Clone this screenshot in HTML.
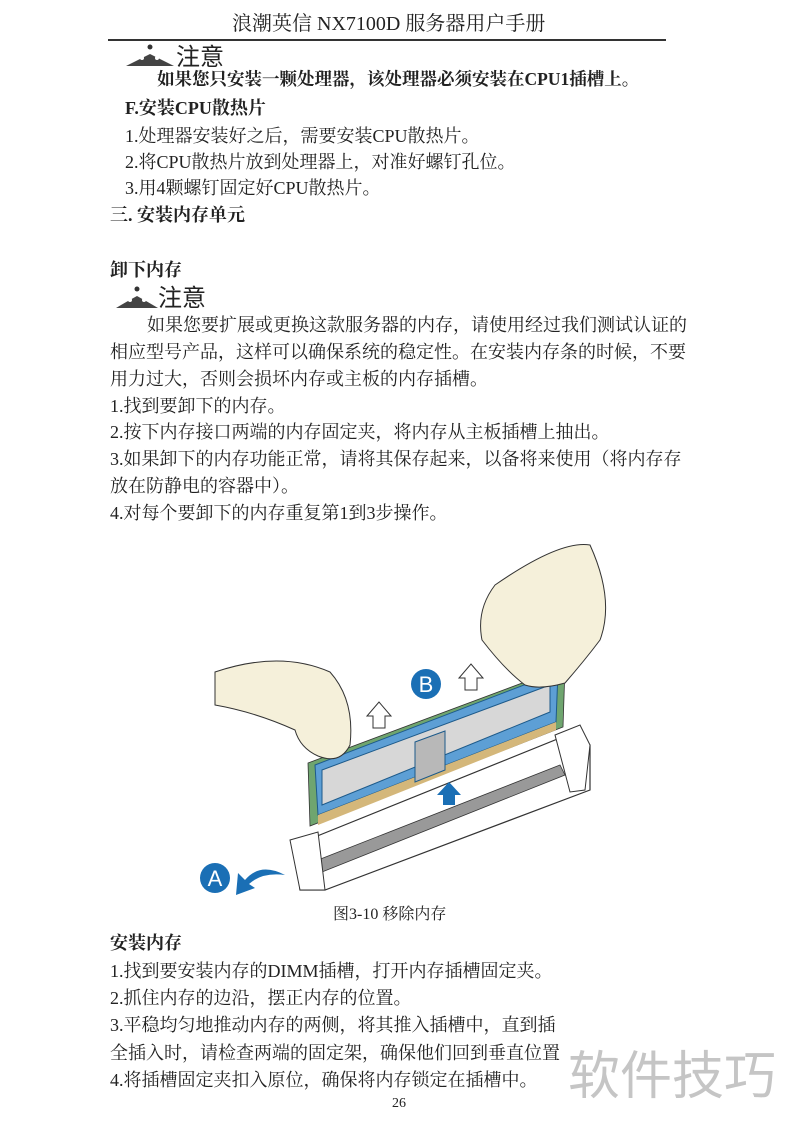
<!DOCTYPE html>
<html><head><meta charset="utf-8"><style>
body{margin:0;background:#fff;}
#p{position:relative;width:800px;height:1131px;overflow:hidden;font-family:"Liberation Serif","Noto Serif CJK SC",serif;color:#222;}
.t{position:absolute;white-space:nowrap;font-size:18px;line-height:20px;}
.b{font-weight:bold;}
</style></head><body><div id="p">
<div class="t" style="left:232px;top:12px;font-size:20px;line-height:24px;">浪潮英信 NX7100D 服务器用户手册</div>
<div style="position:absolute;left:108px;top:39px;width:558px;height:2px;background:#333"></div>
<svg style="position:absolute;left:124px;top:42px" width="52" height="26"><path d="M2 24 Q14 18 26 12 Q38 18 50 24 Z" fill="#444"/><circle cx="26" cy="5" r="2.5" fill="#333"/><circle cx="18" cy="16" r="2" fill="#fff"/><circle cx="33" cy="16" r="2" fill="#fff"/></svg>
<div class="t" style="left:176px;top:41px;font-size:24px;line-height:28px;font-family:'Noto Sans CJK SC',sans-serif">注意</div>
<div class="t b" style="left:157px;top:69px;font-size:17.5px">如果您只安装一颗处理器，该处理器必须安装在CPU1插槽上。</div>
<div class="t b" style="left:125px;top:98px;">F.安装CPU散热片</div>
<div class="t" style="left:125px;top:126px;">1.处理器安装好之后，需要安装CPU散热片。</div>
<div class="t" style="left:125px;top:152px;">2.将CPU散热片放到处理器上，对准好螺钉孔位。</div>
<div class="t" style="left:125px;top:178px;">3.用4颗螺钉固定好CPU散热片。</div>
<div class="t b" style="left:110px;top:205px;">三. 安装内存单元</div>
<div class="t b" style="left:110px;top:260px;">卸下内存</div>
<svg style="position:absolute;left:114px;top:284px" width="46" height="26"><path d="M2 24 Q12 18 23 12 Q34 18 44 24 Z" fill="#444"/><circle cx="23" cy="5" r="2.5" fill="#333"/><circle cx="16" cy="16" r="2" fill="#fff"/><circle cx="30" cy="16" r="2" fill="#fff"/></svg>
<div class="t" style="left:158px;top:282px;font-size:24px;line-height:28px;font-family:'Noto Sans CJK SC',sans-serif">注意</div>
<div class="t" style="left:147px;top:315px;">如果您要扩展或更换这款服务器的内存，请使用经过我们测试认证的</div>
<div class="t" style="left:110px;top:342px;">相应型号产品，这样可以确保系统的稳定性。在安装内存条的时候，不要</div>
<div class="t" style="left:110px;top:369px;">用力过大，否则会损坏内存或主板的内存插槽。</div>
<div class="t" style="left:110px;top:396px;">1.找到要卸下的内存。</div>
<div class="t" style="left:110px;top:422px;">2.按下内存接口两端的内存固定夹，将内存从主板插槽上抽出。</div>
<div class="t" style="left:110px;top:449px;">3.如果卸下的内存功能正常，请将其保存起来，以备将来使用（将内存存</div>
<div class="t" style="left:110px;top:476px;">放在防静电的容器中）。</div>
<div class="t" style="left:110px;top:503px;">4.对每个要卸下的内存重复第1到3步操作。</div>
<svg style="position:absolute;left:0;top:520px" width="800" height="390" viewBox="0 520 800 390">
<polygon points="295,845 560,738 590,745 590,790 325,890 300,890" fill="#fff" stroke="#333" stroke-width="1.2"/>
<polygon points="318,860 560,765 565,775 322,872" fill="#999" stroke="#333" stroke-width="0.8"/>
<polygon points="290,840 318,832 325,890 300,890" fill="#fff" stroke="#333"/>
<polygon points="555,735 580,725 590,745 585,790 570,792" fill="#fff" stroke="#333"/>
<polygon points="308,763 565,667 563,727 310,826" fill="#6fa56f" stroke="#333" stroke-width="0.8"/>
<polygon points="315,765 558,672 556,722 318,815" fill="#5d9fd5" stroke="#1d5a8a" stroke-width="1"/>
<polygon points="322,770 550,685 550,712 322,805" fill="#d7d7d7" stroke="#1d5a8a"/>
<polygon points="318,815 556,722 556,730 318,825" fill="#d4b77a"/>
<polygon points="415,742 445,731 445,770 415,782" fill="#b8b8b8" stroke="#1d5a8a"/>
<path d="M215 672 Q280 650 330 672 Q355 700 350 745 Q340 765 318 756 Q300 748 295 730 Q255 712 215 705 Z" fill="#f5f0da" stroke="#333"/>
<path d="M495 585 Q560 540 590 545 Q615 600 600 640 Q585 660 565 683 Q540 690 525 685 Q505 670 482 640 Q476 610 495 585 Z" fill="#f5f0da" stroke="#333"/>
<path d="M373 728 l0-12 -6 0 12-14 12 14 -6 0 0 12z" fill="#fff" stroke="#333"/>
<path d="M465 690 l0-12 -6 0 12-14 12 14 -6 0 0 12z" fill="#fff" stroke="#333"/>
<path d="M443 805 l0-10 -6 0 12-13 12 13 -6 0 0 10z" fill="#1a6fb5"/>
<circle cx="426" cy="684" r="15" fill="#1a6fb5"/><text x="426" y="692" font-family="Liberation Sans,sans-serif" font-size="22" fill="#fff" text-anchor="middle">B</text>
<circle cx="215" cy="878" r="15" fill="#1a6fb5"/><text x="215" y="886" font-family="Liberation Sans,sans-serif" font-size="22" fill="#fff" text-anchor="middle">A</text>
<path d="M285 875 Q260 862 245 880 L238 873 L236 895 L255 888 L249 884 Q262 872 285 875z" fill="#1a6fb5"/>
</svg>
<div class="t" style="left:333px;top:905px;font-size:16px;">图3-10 移除内存</div>
<div class="t b" style="left:110px;top:933px;">安装内存</div>
<div class="t" style="left:110px;top:961px;">1.找到要安装内存的DIMM插槽，打开内存插槽固定夹。</div>
<div class="t" style="left:110px;top:988px;">2.抓住内存的边沿，摆正内存的位置。</div>
<div class="t" style="left:110px;top:1015px;">3.平稳均匀地推动内存的两侧，将其推入插槽中，直到插</div>
<div class="t" style="left:110px;top:1043px;">全插入时，请检查两端的固定架，确保他们回到垂直位置</div>
<div class="t" style="left:110px;top:1070px;">4.将插槽固定夹扣入原位，确保将内存锁定在插槽中。</div>
<div class="t" style="left:568px;top:1044px;font-size:52px;line-height:56px;color:rgba(150,150,150,0.55);font-family:'Noto Sans CJK SC',sans-serif">软件技巧</div>
<div class="t" style="left:392px;top:1094px;font-size:14px;">26</div>
</div></body></html>
